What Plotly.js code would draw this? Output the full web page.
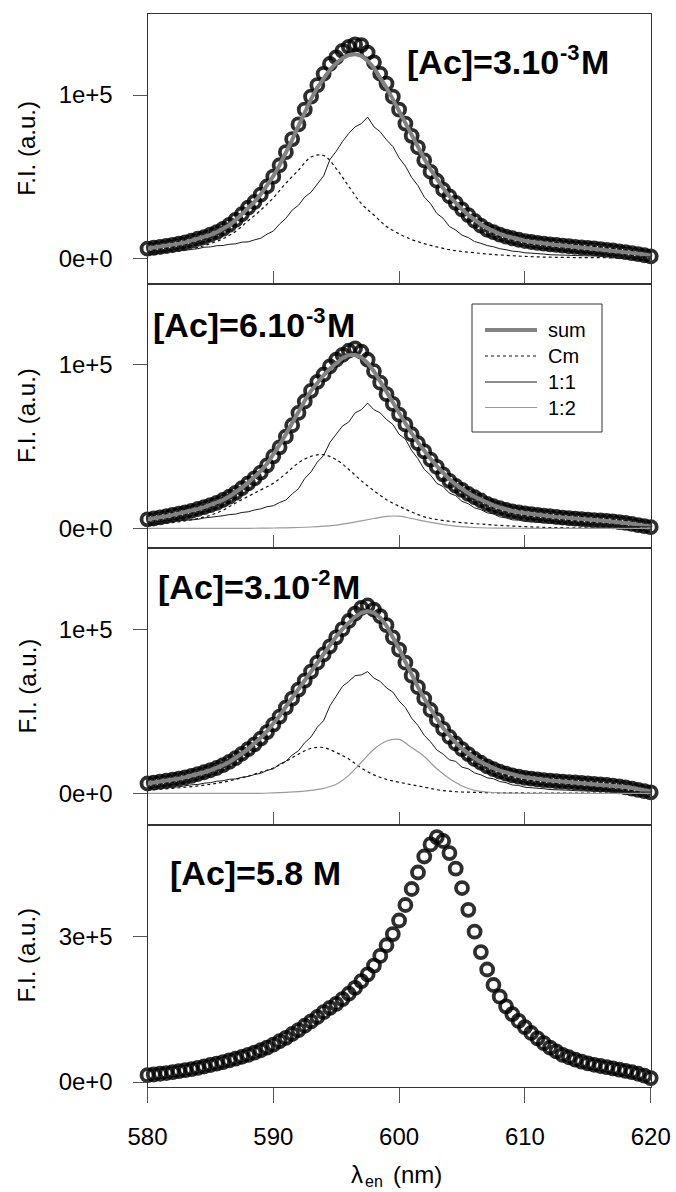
<!DOCTYPE html>
<html>
<head>
<meta charset="utf-8">
<script src="https://cdn.plot.ly/plotly-3.0.1.min.js"></script>
<style>
html,body{margin:0;padding:0;background:#fff;}
#chart{width:676px;height:1192px;}
</style>
</head>
<body>
<div id="chart"></div>
<script>
// Emission wavelength grids (nm)
const lam05 = [580,580.5,581,581.5,582,582.5,583,583.5,584,584.5,585,585.5,586,586.5,587,587.5,588,588.5,589,589.5,590,590.5,591,591.5,592,592.5,593,593.5,594,594.5,595,595.5,596,596.5,597,597.5,598,598.5,599,599.5,600,600.5,601,601.5,602,602.5,603,603.5,604,604.5,605,605.5,606,606.5,607,607.5,608,608.5,609,609.5,610,610.5,611,611.5,612,612.5,613,613.5,614,614.5,615,615.5,616,616.5,617,617.5,618,618.5,619,619.5,620];
const lam1 = [580,581,582,583,584,585,586,587,588,589,590,591,592,593,594,595,596,597,598,599,600,601,602,603,604,605,606,607,608,609,610,611,612,613,614,615,616,617,618,619,620];

// Fluorescence intensity, in units of 1e3 a.u.
// Panel 1: [Ac]=3.10^-3 M
const p1Data = [6,6.5,7,7.6,8.2,9,9.8,10.8,12,13, 14.5,16,18,20.5,23.5,27,31,34.5,39,44, 50,57,65,73,82,91,99,106,113,119, 123,127,129.5,131,130.5,126,120,113,107,99, 91,82.5,75,68,60,53,47.5,42,38,34, 30,26.5,23,20,17.5,16,14.5,13.3,12.3,11.4, 10.6,10,9.5,9,8.6,8.2,7.8,7.4,7,6.7, 6.4,6.1,5.7,5.2,4.8,4.3,3.8,3.2,2.6,1.9, 1.2];
const p1Sum = [6,6.5,7.1,7.7,8.3,9,9.8,10.8,11.9,13, 14.4,16,17.9,20.3,23.3,26.8,30.6,34.6,39.2,44.5, 50.3,57,64.5,72.5,81,89.5,97.5,104.5,110.5,115.5, 119.5,122.5,124.5,125,124,121,116.5,111,104.5,97.5, 90,82.5,75,68,61,54.5,48.5,43,38,33.8, 30,26.6,23.5,20.8,18.5,16.5,14.9,13.6,12.5,11.6, 10.8,10.1,9.5,9,8.6,8.2,7.8,7.4,7.1,6.8, 6.5,6.2,5.8,5.4,5,4.5,4,3.5,2.9,2.3, 1.6];
const p1Cm = [2,2.8,3.8,5,6.7,9,12,16.5,23,29.5, 37,46,54,62,63,55,44,33.5,26.5,19.5, 15,11.5,9,7,5.3,4.2,3.4,2.7,2.1,1.6, 1.2,0.9,0.7,0.6,0.5,0.4,0.4,0.3,0.3,0.3, 0.2];
const p1C11 = [3,3.3,3.4,3.9,4,4.6,4.9,5.5,5.9,6.8, 7,7.7,7.9,8.6,8.9,9.9,10.1,11.3,12.3,14.8, 16.7,21,24.5,29.5,32.5,37.5,40.5,45.5,50.5,60.5, 65.5,71.5,76.5,80.5,82.5,86.5,80.5,77.5,72.5,68.5, 61.5,56.5,49.5,44.5,37.5,33.5,27.5,24.5,19.5,17.3, 14.2,12.7,10.3,9.2,7.8,7.1,5.9,5.3,4.4,4.1, 3.4,3.2,2.7,2.6,2.2,2.2,1.9,1.9,1.7,1.7, 1.5,1.5,1.3,1.3,1.2,1.2,1.1,1,1,0.9, 0.9];

// Panel 2: [Ac]=6.10^-3 M
const p2Data = [5.5,6,6.7,7.4,8.2,9,9.8,10.7,11.8,12.9, 14.2,15.6,17.3,19.3,21.7,24.5,27.5,30.5,34,38.5, 44,49.5,56,63,70.5,77.5,84,89.5,94,99, 103,106,108.5,110,108,103,96,89,82,76, 69.5,63.5,57.5,52,47,42,37.5,33,29,26, 23.5,21,19,17,15,13.5,12.3,11.2,10.4,9.7, 9.1,8.6,8.2,7.8,7.4,7,6.6,6.2,5.9,5.6, 5.3,5,4.8,4.6,4.3,3.8,3.3,2.7,2,1.3, 0.7];
const p2Sum = [5.5,6,6.7,7.4,8.2,9,9.8,10.7,11.8,12.9, 14.2,15.6,17.3,19.4,21.9,24.8,28,31.3,35,39.5, 45,51,57.5,64.5,71.5,78,84,89,93.5,97.5, 101,104,105.8,106,104.5,101,96,90,83.5,77, 70.5,64,58,52.5,47.3,42.5,38,33.8,30,26.8, 24,21.5,19.3,17.4,15.6,14,12.7,11.5,10.6,9.8, 9.2,8.7,8.2,7.8,7.4,7,6.6,6.3,6,5.7, 5.4,5.1,4.8,4.5,4.2,3.8,3.3,2.8,2.2,1.6, 1];
const p2Cm = [2,2.8,3.5,4.6,6,8,11,15.5,19.5,23.5, 27.5,33.5,40,44,45,42,36,29,23,17.5, 13.5,10,7,5.4,4.3,3.5,2.9,2.3,1.8,1.4, 1,0.7,0.5,0.4,0.3,0.3,0.3,0.2,0.2,0.2, 0.2];
const p2C11 = [3,3.3,3.4,3.8,4,4.5,4.7,5.3,5.5,6.3, 6.7,7.4,7.7,8.4,8.7,9.7,10.1,11.2,11.9,13.2, 13.8,15.8,17.3,21,24.2,30.5,34.5,40.5,44.5,52.5, 57.5,62.5,65,70.5,72.5,76.5,72.5,70.5,66.5,63.5, 57.5,54.5,47.5,42.5,36,32.5,27.5,25.5,21.5,20, 16.5,15,12.5,11.4,9.5,8.8,7,6.4,5.2,5, 4.2,3.9,3.4,3.3,2.8,2.6,2.2,2.1,1.9,1.8, 1.7,1.6,1.5,1.4,1.3,1.2,1.1,1.1,1,1, 0.9];
const p2C12 = [0,0,0,0,0,0,0,0,0,0.1, 0.2,0.3,0.5,0.8,1.3,2,3.2,4.6,6,7.3, 7.4,6,4.4,3,1.8,1,0.5,0.2,0.1,0.1, 0,0,0,0,0,0,0,0,0,0, 0];

// Panel 3: [Ac]=3.10^-2 M
const p3Data = [6,6.5,7.1,7.7,8.3,9,9.8,10.7,11.8,12.9, 14.1,15.5,17.2,19.2,21.5,24.2,27,30,33.5,37.5, 42,47,52.5,58,63.5,69,74.5,80,85,90, 95.5,100.5,105.5,110,113.5,115,112.5,108.5,103,95.5, 88,80,72,65,58,51,45,39.5,34.5,30.5, 27,24,21,18.7,16.5,14.8,13.3,12,11,10.2, 9.5,9,8.5,8.1,7.8,7.5,7.2,6.9,6.6,6.3, 6,5.7,5.4,5.1,4.7,4.2,3.6,2.9,2.1,1.3, 0.6];
const p3Sum = [6,6.5,7.1,7.7,8.3,9,9.8,10.7,11.8,12.9, 14.1,15.5,17.2,19.2,21.6,24.3,27.2,30.4,34,38, 42.5,47.5,53,58.5,64,69.5,75,80.5,86,91, 96,100.5,104.5,108,110.5,111.5,110.5,107.5,102.5,96, 88.5,80.5,72.5,65,58,51.5,45.5,40,35.2,31, 27.3,24.2,21.5,19.2,17.2,15.4,13.9,12.6,11.5,10.6, 9.8,9.2,8.7,8.2,7.8,7.5,7.2,6.9,6.6,6.3, 6,5.7,5.4,5.1,4.7,4.3,3.8,3.2,2.5,1.8, 1.1];
const p3Cm = [2,2.5,3,3.7,4.5,5.5,6.8,8.5,10.5,13, 15.5,19.5,24,27.5,28,25,21,15.5,11.3,8.5, 6.8,5.2,3.8,2.2,1.3,0.8,0.6,0.4,0.3,0.3, 0.2,0.2,0.2,0.2,0.2,0.2,0.2,0.2,0.2,0.2, 0.2];
const p3C11 = [2,2.5,2.7,3.3,3.5,4.2,4.5,5.2,5.4,6.2, 6.5,7.4,7.7,8.6,8.8,9.8,10.3,11.5,12.2,14, 15,17.8,19.6,23.4,26,31,34.5,40.5,44.5,53.5, 59.5,65.5,68.5,72,72.5,74.5,70.5,68.5,64.5,62, 56.5,52.5,46,41.5,35.5,31.5,26.5,24,20.5,19.5, 16,15,12.5,11.3,9.5,8.9,7.2,6.5,5.1,4.8, 3.7,3.5,2.9,2.8,2.3,2.3,1.9,1.9,1.6,1.6, 1.4,1.3,1.2,1.1,1,1,0.9,0.9,0.8,0.8, 0.7];
const p3C12 = [0,0,0,0,0,0,0,0,0,0, 0.3,0.6,1,1.8,3,5.5,11,19,27,32, 33,28,22.5,15,9,4.5,1.8,0.8,0.3,0.1, 0,0,0,0,0,0,0,0,0,0, 0];

// Panel 4: [Ac]=5.8 M
const p4Data = [14,15.5,17,18.5,20.5,22.5,24.5,26.5,29,32, 35,38,41,44.5,48,52,56,60.5,65.5,71, 77,84,91,99,107,116,125,134,144,153, 161,171,182,194,208,222,240,260,282,305, 333,365,398,432,465,490,505,497,472,440, 400,355,310,268,232,200,176,156,140,126, 113,101,90,80,71,63,56,51,46,42, 38.5,35.5,33,30.5,28,25.5,23,20.5,17,13, 8];

// Text pieces: panel labels (base, superscript exponent, trailing unit)
const labelBase = ["[Ac]=3.10", "[Ac]=6.10", "[Ac]=3.10", "[Ac]=5.8 M"];
const labelExp = ["-3", "-3", "-2", ""];
const labelUnit = ["M", "M", "M", ""];
const seriesNames = ["sum", "Cm", "1:1", "1:2"];
const yTickVals = [[0,100],[0,100],[0,100],[0,300]];
const yTickText = [["0e+0","1e+5"],["0e+0","1e+5"],["0e+0","1e+5"],["0e+0","3e+5"]];
const xTickVals = [580,590,600,610,620];
const yTitle = "F.I. (a.u.)";
const xTitleParts = ["λ", "en", "(nm)"];

const FONT = "Liberation Sans, Arial, sans-serif";
const traces = [];
function dataTrace(y, ax){
  return {x: lam05, y: y, xaxis: 'x'+ax, yaxis: 'y'+ax, type:'scatter', mode:'markers',
    cliponaxis:false,
    marker:{symbol:'circle-open', size:12, color:'rgba(0,0,0,0.82)', line:{width:3.8}},
    showlegend:false, hoverinfo:'skip'};
}
function lineTrace(x, y, ax, name, style){
  return {x:x, y:y, xaxis:'x'+ax, yaxis:'y'+ax, type:'scatter', mode:'lines', name:name,
    line:style, showlegend:false, hoverinfo:'skip'};
}
const sSum = {color:'#828282', width:4};
const sCm = {color:'#111', width:1.2, dash:'dot', shape:'spline'};
const s11 = {color:'#1a1a1a', width:1};
const s12 = {color:'#9a9a9a', width:1.2, shape:'spline'};
const legendStyles = [sSum, sCm, s11, s12];

traces.push(dataTrace(p1Data, ''));
traces.push(lineTrace(lam05, p1Sum, '', seriesNames[0], sSum));
traces.push(lineTrace(lam1, p1Cm, '', seriesNames[1], sCm));
traces.push(lineTrace(lam05, p1C11, '', seriesNames[2], s11));

traces.push(dataTrace(p2Data, '2'));
traces.push(lineTrace(lam05, p2Sum, '2', seriesNames[0], sSum));
traces.push(lineTrace(lam1, p2Cm, '2', seriesNames[1], sCm));
traces.push(lineTrace(lam05, p2C11, '2', seriesNames[2], s11));
traces.push(lineTrace(lam1, p2C12, '2', seriesNames[3], s12));

traces.push(dataTrace(p3Data, '3'));
traces.push(lineTrace(lam05, p3Sum, '3', seriesNames[0], sSum));
traces.push(lineTrace(lam1, p3Cm, '3', seriesNames[1], sCm));
traces.push(lineTrace(lam05, p3C11, '3', seriesNames[2], s11));
traces.push(lineTrace(lam1, p3C12, '3', seriesNames[3], s12));

traces.push(dataTrace(p4Data, '4'));

const W = 676, H = 1192;
const px = v => v / W;
const py = v => 1 - v / H;
const xDom = [px(147.5), px(650.7)];
const yDoms = [[py(283.5), py(14)],[py(548.3), py(283.5)],[py(824.5), py(548.3)],[py(1086.7), py(824.5)]];
const yRanges = [[-15.4,149.6],[-12.2,149.6],[-19.1,150],[-9.7,531]];
const axisFont = {family:FONT, size:24, color:'#000'};

const layout = {
  width:W, height:H, margin:{l:0,r:0,t:0,b:0},
  paper_bgcolor:'#fff', plot_bgcolor:'#fff',
  font:{family:FONT, color:'#000'},
  showlegend:false,
  annotations:[], shapes:[]
};
function note(x, y, text, size, opts){
  const a = Object.assign({xref:'paper', yref:'paper', x:px(x), y:py(y), text:text, showarrow:false,
    xanchor:'left', yanchor:'middle', borderpad:0, borderwidth:0,
    font:{family:FONT, size:size, color:'#000'}}, opts || {});
  layout.annotations.push(a);
}
const axIds = ['', '2', '3', '4'];
for (let i=0;i<4;i++){
  const id = axIds[i];
  const last = (i===3);
  layout['xaxis'+id] = {domain:xDom, range:[580,620], anchor:'y'+id,
    showline:true, linecolor:'#333', linewidth:1, mirror:true,
    showgrid:false, zeroline:false,
    ticks: last ? 'outside' : 'inside', ticklen: last ? 15 : 13, tickcolor:'#555', tickwidth:1,
    tickmode:'array', tickvals: last ? xTickVals : xTickVals.slice(1,4),
    showticklabels:last, tickfont:axisFont, ticklabelstandoff: last ? 13 : 0};
  layout['yaxis'+id] = {domain:yDoms[i], range:yRanges[i], anchor:'x'+id,
    showline:true, linecolor:'#333', linewidth:1, mirror:true,
    showgrid:false, zeroline:false,
    ticks:'outside', ticklen:14, tickcolor:'#555', tickwidth:1,
    tickmode:'array', tickvals:yTickVals[i], ticktext:yTickText[i],
    tickfont:axisFont, ticklabelstandoff:15};
  layout.annotations.push({xref:'paper', yref:'y'+id+' domain', x:px(27), y:0.5,
    text:yTitle, textangle:-90, showarrow:false, xanchor:'center', yanchor:'middle',
    borderpad:0, borderwidth:0, font:{family:FONT, size:24, color:'#000'}});
}
// panel labels: base text, raised exponent, trailing unit
const labelX = [406.7, 153.3, 158.3, 170];
const labelY = [62.5, 325.5, 587, 873];
const baseW = 152.1;   // width of "[Ac]=d.10" at 34px bold
for (let i=0;i<4;i++){
  const bold = {family:FONT, size:34, color:'#000', weight:'bold'};
  note(labelX[i], labelY[i], labelBase[i], 34, {font:bold});
  if (labelExp[i]) {
    note(labelX[i] + baseW + 1, labelY[i] - 10, labelExp[i], 22, {font:{family:FONT, size:22, color:'#000', weight:'bold'}});
    note(labelX[i] + baseW + 22, labelY[i], labelUnit[i], 34, {font:bold});
  }
}
// x-axis title: lambda with subscript "en", then (nm)
note(351, 1174, xTitleParts[0], 24);
note(365, 1181, xTitleParts[1], 16);
note(393, 1174, xTitleParts[2], 24);

// legend box (drawn in panel 2)
layout.shapes.push({type:'rect', xref:'paper', yref:'paper', x0:px(472), x1:px(602), y0:py(432), y1:py(304),
  line:{color:'#333', width:1}, fillcolor:'#fff', layer:'above'});
const legY = [330, 356, 382, 407.5];
for (let k=0;k<4;k++){
  const st = legendStyles[k];
  layout.shapes.push({type:'line', xref:'paper', yref:'paper', x0:px(485), x1:px(537), y0:py(legY[k]), y1:py(legY[k]),
    line:{color:st.color, width:st.width, dash:st.dash || 'solid'}, layer:'above'});
  note(548, legY[k], seriesNames[k], 20);
}

Plotly.newPlot('chart', traces, layout, {displayModeBar:false, staticPlot:true});
</script>
</body>
</html>
